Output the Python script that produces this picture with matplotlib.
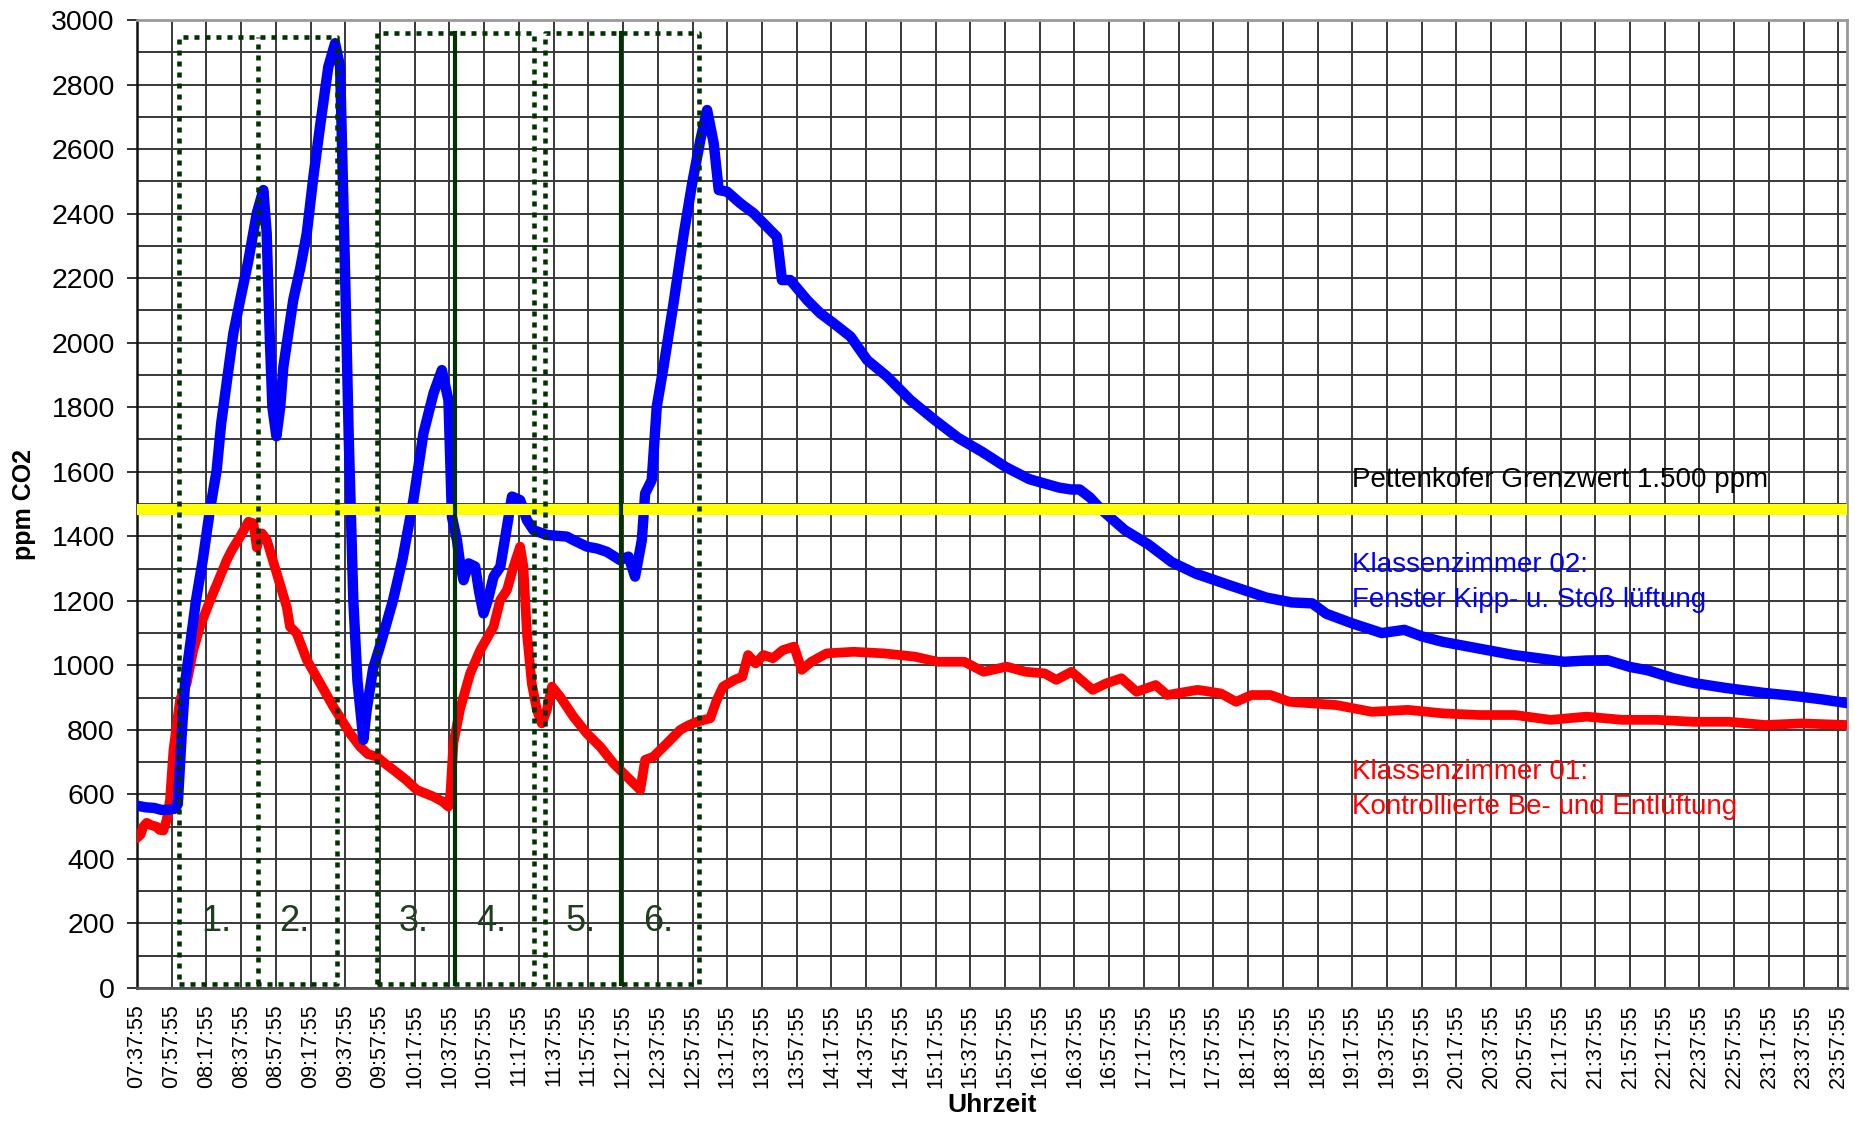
import matplotlib
matplotlib.use("Agg")
import matplotlib.pyplot as plt

plt.rcParams['font.family'] = ['Liberation Sans', 'DejaVu Sans']

# ---- data (minutes after 07:37:55, ppm CO2) ----
blue_t = [0, 5, 10, 14, 18, 22, 23.5, 25.8, 27.7, 31.5, 34, 38, 42, 45.9, 48.5, 51, 55.5, 59.4,
          64, 69, 72.8, 74.7, 76.6, 78, 80.3, 82.5, 84.3, 90, 94, 97.8, 101.6, 105.4, 110.2,
          114.1, 117, 119.5, 122, 124.6, 127, 130.4, 132.3, 136, 140, 147.5, 153, 159.2, 165,
          170.8, 175.6, 179.4, 181.4, 184.3, 186, 188.1, 191, 194.8, 197, 199.6, 202, 205.4,
          209.3, 213.1, 216, 220.7, 224.6, 228.4, 236.1, 247.6, 251.4, 259.1, 265, 270.6,
          278.3, 283.1, 286.9, 290.8, 292.7, 296.5, 299.4, 303.3, 309, 315, 319.8, 324.5,
          328.4, 332.2, 335.1, 339.9, 347.5, 355.2, 362.9, 368.6, 371.5, 376.3, 386, 393.6,
          401.3, 411, 420.6, 432.1, 445.5, 459.6, 473, 487, 500.6, 514, 531, 538, 543, 549,
          555, 569, 582.5, 596, 610, 630, 650.6, 665, 677, 685, 700, 717, 730, 740, 752, 770,
          793, 810, 822, 835, 847, 860, 870, 885, 897, 915, 938, 955, 970, 985]
blue_v = [565, 560, 558, 552, 552, 556, 570, 790, 945, 1100, 1202, 1330, 1481, 1605, 1750, 1850,
          2029, 2132, 2250, 2401, 2473, 2340, 2000, 1800, 1710, 1800, 1925, 2132, 2230, 2339,
          2514, 2669, 2855, 2928, 2855, 2300, 1700, 1202, 950, 769, 862, 990, 1060, 1202, 1330,
          1512, 1719, 1843, 1915, 1822, 1460, 1388, 1320, 1264, 1316, 1306, 1230, 1161, 1200,
          1275, 1306, 1430, 1523, 1512, 1450, 1419, 1404, 1399, 1388, 1368, 1362, 1352, 1326,
          1337, 1275, 1388, 1533, 1574, 1802, 1925, 2120, 2339, 2494, 2628, 2721, 2618, 2473,
          2468, 2432, 2401, 2359, 2328, 2194, 2194, 2132, 2091, 2060, 2019, 1946, 1895, 1822,
          1760, 1705, 1661, 1614, 1577, 1551, 1545, 1545, 1520, 1485, 1419, 1375, 1320, 1284,
          1247, 1210, 1195, 1192, 1160, 1130, 1100, 1110, 1090, 1073, 1055, 1032, 1020, 1011,
          1015, 1016, 995, 985, 960, 945, 930, 914, 905, 895, 883]

red_t = [0, 2, 3.6, 5.6, 8, 11.3, 13, 15.2, 17.1, 19, 21, 24.8, 28.6, 32.4, 36.3, 42, 47.8, 51.7,
         54.6, 59.4, 64.2, 67.1, 69, 70.5, 72, 74.8, 80.5, 86.3, 88.1, 92, 97.8, 105.5, 113.1,
         122.7, 128.5, 133, 138.1, 143, 147.7, 155, 161.2, 170.8, 176, 179.4, 180.5, 182.3,
         186.2, 191.9, 197.7, 205.4, 209.2, 213.1, 216.9, 220.7, 222.6, 224.6, 227.4, 230.3,
         233.2, 236.1, 239, 243.7, 251.4, 259.1, 266.8, 274.5, 282.2, 289.9, 292.7, 297.5,
         305.2, 312.9, 318, 322.5, 330.2, 334, 337.6, 344.2, 348.7, 352, 356.4, 360.8, 366.3,
         371.9, 378.5, 382.9, 388.4, 397.2, 412.7, 430.3, 448, 461.2, 476.6, 487.7, 500.9,
         511.9, 522.9, 529.5, 538.3, 550.5, 558.2, 567, 575.8, 586.8, 593.4, 611, 624.3,
         633.1, 641.9, 652.9, 663.9, 690.8, 711.3, 732, 752.6, 773.2, 793.8, 814.4, 835,
         855.6, 876, 896.7, 917.3, 938, 958.6, 985]
red_v = [465, 475, 500, 512, 505, 500, 490, 488, 521, 583, 738, 893, 944, 1047, 1120, 1200, 1275,
         1326, 1357, 1399, 1445, 1440, 1365, 1400, 1409, 1388, 1285, 1180, 1120, 1099, 1017,
         944, 872, 789, 748, 725, 717, 695, 676, 645, 614, 593, 578, 562, 600, 760, 867, 975,
         1047, 1120, 1202, 1233, 1306, 1368, 1306, 1099, 944, 862, 820, 862, 934, 903, 841,
         789, 748, 696, 655, 614, 707, 717, 758, 800, 815, 825, 836, 893, 934, 955, 965, 1032,
         1006, 1032, 1022, 1047, 1058, 986, 1011, 1037, 1042, 1037, 1027, 1011, 1011, 980,
         996, 980, 975, 955, 980, 924, 944, 960, 918, 939, 908, 924, 913, 887, 908, 908, 887,
         877, 856, 862, 851, 846, 846, 831, 841, 831, 831, 825, 825, 815, 820, 815]

pettenkofer = 1485

# ventilation periods (minutes after 07:37:55)
box_left = [24.4, 138.1, 235.3]
box_mid = [69.5, 183.2, 278.9]
box_right = [115.0, 228.4, 324.0]
box_top = [2948, 2961, 2961]
box_bottom = [12, 12, 12]
box_mid_solid = [False, True, True]
period_labels = ['1.', '2.', '3.', '4.', '5.', '6.']

tick_labels = ['07:37:55', '07:57:55', '08:17:55', '08:37:55', '08:57:55', '09:17:55', '09:37:55',
               '09:57:55', '10:17:55', '10:37:55', '10:57:55', '11:17:55', '11:37:55', '11:57:55',
               '12:17:55', '12:37:55', '12:57:55', '13:17:55', '13:37:55', '13:57:55', '14:17:55',
               '14:37:55', '14:57:55', '15:17:55', '15:37:55', '15:57:55', '16:17:55', '16:37:55',
               '16:57:55', '17:17:55', '17:37:55', '17:57:55', '18:17:55', '18:37:55', '18:57:55',
               '19:17:55', '19:37:55', '19:57:55', '20:17:55', '20:37:55', '20:57:55', '21:17:55',
               '21:37:55', '21:57:55', '22:17:55', '22:37:55', '22:57:55', '23:17:55', '23:37:55',
               '23:57:55']
tick_pos = [20 * i for i in range(len(tick_labels))]

# ---- figure ----
fig = plt.figure(figsize=(18.56, 11.21), dpi=100)
ax = fig.add_axes([0.07381, 0.11864, 0.92134, 0.86352])

ax.set_xlim(0, 985)
ax.set_ylim(0, 3000)

ax.set_xticks(tick_pos)
ax.set_xticklabels(tick_labels, rotation=90, fontsize=15.5)
ax.set_yticks(range(0, 3001, 200))
ax.set_yticks(range(100, 3000, 200), minor=True)
ax.tick_params(axis='y', which='major', length=7, width=1.3, labelsize=20.5, pad=9, color='#222222')
ax.tick_params(axis='y', which='minor', length=0)
ax.tick_params(axis='x', which='major', length=0, pad=12)

ax.grid(True, which='major', axis='both', color='#383838', linewidth=1.4, zorder=0)
ax.grid(True, which='minor', axis='y', color='#383838', linewidth=1.4, zorder=0)
ax.set_axisbelow(True)

ax.spines['left'].set_color('#111111')
ax.spines['left'].set_linewidth(1.8)
ax.spines['bottom'].set_color('#555555')
ax.spines['bottom'].set_linewidth(2)
for s in ['top', 'right']:
    ax.spines[s].set_color('#999999')
    ax.spines[s].set_linewidth(2)

# series
ax.plot(red_t, red_v, color='#FF0000', linewidth=7, solid_joinstyle='round',
        solid_capstyle='round', zorder=3)
ax.plot(blue_t, blue_v, color='#0000FF', linewidth=7.5, solid_joinstyle='round',
        solid_capstyle='round', zorder=4)

# Pettenkofer limit
ax.axhline(pettenkofer, color='#FFFF00', linewidth=8, zorder=5)

# ventilation period boxes
green = '#003300'
dot_kw = dict(color=green, linewidth=3.3, linestyle=(0, (1.1, 1.3)), zorder=6,
              dash_capstyle='butt')
for l, m, r, t, b, solid in zip(box_left, box_mid, box_right, box_top, box_bottom, box_mid_solid):
    ax.plot([l, r, r, l, l], [b, b, t, t, b], **dot_kw)
    if solid:
        ax.plot([m, m], [b, t], color=green, linewidth=3, zorder=6)
    else:
        ax.plot([m, m], [b, t], **dot_kw)

centers = []
for l, m, r in zip(box_left, box_mid, box_right):
    centers += [(l + m) / 2, (m + r) / 2]
for c, lab in zip(centers, period_labels):
    ax.text(c - 1.5, 205, lab, fontsize=26, color='#1f3d1f', ha='center', va='center', zorder=7)

# annotations
fs = 20
ax.text(700, 1574, 'Pettenkofer Grenzwert 1.500 ppm', fontsize=fs, color='black',
        ha='left', va='center', zorder=7)
ax.text(700, 1311, 'Klassenzimmer 02:', fontsize=fs, color='#0000FF', ha='left', va='center', zorder=7)
ax.text(700, 1202, 'Fenster Kipp- u. Stoß lüftung', fontsize=fs, color='#0000FF', ha='left',
        va='center', zorder=7)
ax.text(700, 670, 'Klassenzimmer 01:', fontsize=fs, color='#FF0000', ha='left', va='center', zorder=7)
ax.text(700, 562, 'Kontrollierte Be- und Entlüftung', fontsize=fs, color='#FF0000', ha='left',
        va='center', zorder=7)

ax.set_ylabel('ppm CO2', fontsize=18, fontweight='bold', va='center')
ax.yaxis.set_label_coords(-0.066, 0.5)
ax.set_xlabel('Uhrzeit', fontsize=19, fontweight='bold', va='center')
ax.xaxis.set_label_coords(0.5, -0.1209)

fig.savefig('out.png', dpi=100, facecolor='white')
